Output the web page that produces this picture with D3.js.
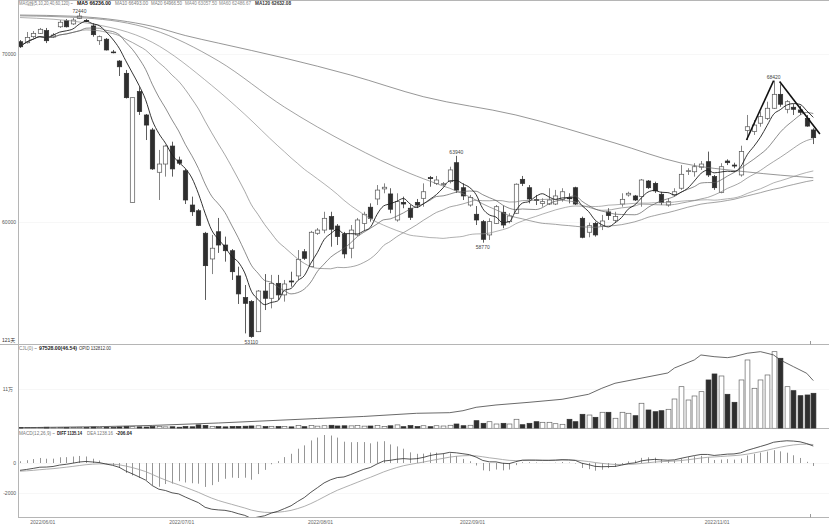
<!DOCTYPE html>
<html><head><meta charset="utf-8">
<script src="https://cdn.jsdelivr.net/npm/d3@7"></script>
<style>
body{margin:0;background:#fff}
svg{display:block}
text{font-family:"Liberation Sans",Arial,"Noto Sans CJK SC",sans-serif}
</style>
</head><body>
<svg id="c" width="829" height="528"></svg>
<script>
// ---------- data ----------
const opens=[70730,70670,71030,71230,71390,71010,71620,71980,71790,72120,
72000,71670,70790,70880,70120,69580,68850,61170,67760,66370,
65480,62960,63450,64520,63690,63050,61010,60670,59330,57800,
59420,58630,58290,56790,55500,55260,53470,55890,55460,56350,
55660,56490,56790,58230,57340,59330,59520,60320,59760,59270,
58440,59230,59920,60880,61370,61970,61670,60120,61170,60820,
61170,61410,62640,62300,62250,62400,63530,62040,61010,60460,
60020,59230,59920,60580,60020,60520,62540,62040,61330,61110,
61070,61070,61350,61430,62040,60220,59390,59920,59760,60600,
60100,61070,61610,61550,61510,62440,62300,61650,61010,61610,
62010,63020,62990,63260,63590,62700,61750,63630,63390,62800,
65440,65380,65880,66170,66770,67600,66710,66830,66670,66170,65480];
const highs=[70830,71310,71370,71550,71550,71250,72020,72080,72140,72440,
72080,71830,71100,70950,70240,69640,69050,67400,68020,66430,
65600,64290,64580,64780,63890,63160,61510,60770,59410,59230,
60240,59130,58390,57340,56250,55350,55950,56900,56850,56850,
56550,57040,58330,58390,59470,59640,60610,60610,59880,59410,
59820,60240,60610,61110,62200,62300,62010,61710,61510,61010,
61370,62300,62740,62740,62380,63290,63940,62300,61610,60950,
60120,60220,61010,60950,60520,62300,62740,62200,61610,61410,
62010,61910,62010,61710,62100,60320,59960,60020,60420,60820,
60610,61710,61800,61610,62560,62500,62400,61800,61410,62010,
63390,63200,63500,63630,64190,62800,63500,63730,63530,64540,
66370,66070,66570,67160,68420,68200,67260,67020,66910,66370,65580];
const lows=[70360,70620,70950,71190,70650,70950,71550,71580,71730,72080,
71900,71030,70540,70210,70040,68690,67350,61170,66370,64880,
63100,61310,62700,62700,63390,61070,60360,59760,55360,56900,
58160,57640,56550,55120,53370,53110,53450,54760,54860,55360,
55260,56150,56550,57740,57320,59230,59330,58530,58630,57840,
57840,59170,59520,60020,61010,61710,60520,60020,60820,60120,
60830,60910,62100,62200,62140,62300,61730,61310,60910,59820,
58770,58930,59880,59630,59920,60480,62140,61110,61010,60910,
61010,61010,61210,61110,61010,59030,59090,59130,59520,60120,
59960,60910,61510,61250,60910,61970,61730,61010,60910,61510,
61910,62800,62700,63100,62680,61910,61710,63390,63200,62700,
64880,65180,65670,66070,66730,66860,66470,66370,66370,65670,64640];
const closes=[70430,70990,71230,71470,70790,71130,71890,71620,72020,72260,
71960,71150,71030,70240,70080,69240,67400,67400,66570,65770,
63160,63450,64520,63160,63500,61310,60610,59800,57400,58440,
58630,58290,57040,55720,55160,53180,55890,55460,56350,55660,
56310,56430,57780,57840,59390,59520,60220,59570,59130,58100,
59520,60120,60460,60220,61900,62070,60760,61210,61070,60280,
61010,61800,62580,62500,62280,63100,61900,61550,61450,60120,
58970,60020,60910,59820,60360,62250,62300,61370,61290,61210,
61310,61550,61800,61390,61070,59090,59780,59230,60060,60380,
60320,61350,61710,61310,62500,62040,61850,61150,61210,61800,
62840,63050,63290,63450,62800,62040,63290,63530,63330,64190,
65670,65770,66270,66770,67600,67010,67160,66710,66530,65710,65020];
const volumes=[2500,2000,1800,2200,3000,1500,2600,2400,2000,2800,
2200,3500,2500,3000,2000,3800,5000,4500,4000,3500,
4800,5200,4000,4300,3000,5000,4200,9500,8000,5500,
4600,4000,5000,5400,5800,6500,7000,4800,5500,5000,
5200,4000,7500,4500,8000,6000,7200,8400,6500,7000,
6800,7600,6000,6400,8000,5000,7000,9500,4500,7400,
5000,7200,4500,7200,6400,8400,12000,7200,8400,21200,
13900,18400,12000,13900,12000,25100,10000,13900,18400,16700,
16700,12800,11100,25100,18400,39000,37000,30600,44600,44600,
27900,44600,41800,35100,69700,51000,46200,49000,52900,81600,
115900,78800,90000,102000,134600,151300,145700,94700,72400,134600,
190300,111400,134600,148500,213400,195000,115900,104800,90800,92800,97528];
// open interest, read at these bar positions
const oiIdx=[0,12,20,30,45,52,60,65,67,69,72,77,82,86,88,90,98,99,102,103,105,107,108,110,112,113,114,115,117,119,120];
const oiVal=[1700,4500,8000,14800,27300,33000,41800,43500,49000,58500,64900,72400,80800,94700,111400,125400,154100,168000,190300,204200,199500,196700,199500,209000,213400,209000,204200,190300,171600,153200,132812];
const ma40Idx=[0,10,20,29,34], ma40Val=[72170,71850,70700,68130,66410];
const ma60Idx=[0,10,20,30,40,50], ma60Val=[72270,72140,71460,69590,66840,64580];
const ma120Idx=[0,8,15,20,25,30,40,50,61,75,90,100,110,120];
const ma120Val=[72320,72250,72000,71650,71100,70650,69760,68750,67460,66370,64700,63510,62980,62632];
// MACD state just before the first bar (read from the left edge)
const macdSeed=[70750,71250,-560]; // EMA12, EMA26, DEA
const priceTicks=[70000,60000], priceTickLabels=["70000","60000"];
const volTicks=[110000], volTickLabels=["11万"];
const macdTicks=[0,-2000], macdTickLabels=["0","-2000"];
const dateIdx=[3,24,45,68,105];
const dateLabels=["2022/06/01","2022/07/01","2022/08/01","2022/09/01","2022/11/01"];
const markHighIdx=[9,66,114], markLowIdx=[35,70];
const trendA=[[109.9,64880],[114,68420]], trendB=[[114.9,68360],[121,65240]];

// ---------- drawing ----------
const svg=d3.select("#c");
const n=closes.length;
const L=18.5, R=829;
const x=d3.scaleLinear().domain([0,120]).range([20,813.3]);
const yP=d3.scaleLinear().domain([60000,70000]).range([222,54]);
const yV=d3.scaleLinear().domain([0,110000]).range([428.3,388.8]);
const yM=d3.scaleLinear().domain([-2000,0]).range([493,463]);

const defs=svg.append("defs");
defs.append("clipPath").attr("id","cpMain").append("rect").attr("x",19).attr("y",1).attr("width",810).attr("height",343.5);
defs.append("clipPath").attr("id","cpVol").append("rect").attr("x",19).attr("y",345.5).attr("width",810).attr("height",83);
defs.append("clipPath").attr("id","cpMacd").append("rect").attr("x",19).attr("y",429).attr("width",810).attr("height",88);

// grid
const grid=svg.append("g").attr("stroke","#e6e6e6").attr("stroke-width",0.6).attr("stroke-dasharray","1,1");
priceTicks.forEach(v=>grid.append("line").attr("x1",L+1).attr("x2",R).attr("y1",Math.round(yP(v))+0.5).attr("y2",Math.round(yP(v))+0.5));
volTicks.forEach(v=>grid.append("line").attr("x1",L+1).attr("x2",R).attr("y1",Math.round(yV(v))+0.5).attr("y2",Math.round(yV(v))+0.5));
macdTicks.forEach(v=>grid.append("line").attr("x1",L+1).attr("x2",R).attr("y1",Math.round(yM(v))+0.5).attr("y2",Math.round(yM(v))+0.5));

// frame
const fr=svg.append("g").attr("stroke","#b5b5b5").attr("stroke-width",1);
fr.append("line").attr("x1",L).attr("x2",R).attr("y1",0.5).attr("y2",0.5);
fr.append("line").attr("x1",L).attr("x2",L).attr("y1",0).attr("y2",518);
fr.append("line").attr("x1",0).attr("x2",R).attr("y1",344.5).attr("y2",344.5);
fr.append("line").attr("x1",L).attr("x2",R).attr("y1",428.5).attr("y2",428.5);
fr.append("line").attr("x1",L).attr("x2",R).attr("y1",517.5).attr("y2",517.5);
svg.append("line").attr("x1",810.5).attr("x2",810.5).attr("y1",341).attr("y2",344.5).attr("stroke","#999");
svg.append("line").attr("x1",810.5).attr("x2",810.5).attr("y1",514).attr("y2",517.5).attr("stroke","#999");

// candles
const up=i=>closes[i]>=opens[i];
const gMain=svg.append("g").attr("clip-path","url(#cpMain)");
const bw=4.4;
const cg=gMain.append("g");
d3.range(n).forEach(i=>{
  const cx=Math.round(x(i))+0.5;
  cg.append("line").attr("x1",cx).attr("x2",cx).attr("y1",yP(highs[i])).attr("y2",yP(lows[i]))
    .attr("stroke",up(i)?"#666":"#333").attr("stroke-width",0.8);
  const t=yP(Math.max(opens[i],closes[i])), b=yP(Math.min(opens[i],closes[i]));
  cg.append("rect").attr("x",cx-bw/2).attr("y",t).attr("width",bw).attr("height",Math.max(0.8,b-t))
    .attr("fill",up(i)?"#fff":"#2e2e2e").attr("stroke",up(i)?"#555":"#2e2e2e").attr("stroke-width",0.7);
});

// moving averages
function sma(p){return d3.range(n).map(i=>{const s=Math.max(0,i-p+1);return [i,d3.mean(closes.slice(s,i+1))];});}
function smaFull(p){return d3.range(p-1,n).map(i=>[i,d3.mean(closes.slice(i-p+1,i+1))]);}
const lineP=d3.line().x(d=>x(d[0])).y(d=>yP(d[1])).curve(d3.curveMonotoneX);
const ma120=ma120Idx.map((d,k)=>[d,ma120Val[k]]);
const ma60=ma60Idx.map((d,k)=>[d,ma60Val[k]]).concat(smaFull(60));
const ma40=ma40Idx.map((d,k)=>[d,ma40Val[k]]).concat(smaFull(40));
const mas=[[ma120,"#6a6a6a",0.7],[ma60,"#7a7a7a",0.7],[ma40,"#8f8f8f",0.7],[sma(20),"#808080",0.7],[sma(10),"#5a5a5a",0.7],[sma(5),"#1e1e1e",0.9]];
mas.forEach(m=>gMain.append("path").attr("d",lineP(m[0])).attr("fill","none").attr("stroke",m[1]).attr("stroke-width",m[2]));

// trend lines
[trendA,trendB].forEach(t=>gMain.append("path").attr("d",d3.line().x(d=>x(d[0])).y(d=>yP(d[1]))(t))
  .attr("stroke","#111").attr("stroke-width",1.6).attr("fill","none"));

// high/low marks
const fs=5;
markHighIdx.forEach(i=>svg.append("text").attr("x",x(i)).attr("y",Math.max(yP(highs[i])-1.6,12.6)).attr("text-anchor","middle")
  .attr("font-size",fs).attr("fill","#444").text(highs[i]));
markLowIdx.forEach(i=>svg.append("text").attr("x",x(i)).attr("y",yP(lows[i])+6.5).attr("text-anchor","middle")
  .attr("font-size",fs).attr("fill","#444").text(lows[i]));

// volume + open interest
const gVol=svg.append("g").attr("clip-path","url(#cpVol)");
d3.range(n).forEach(i=>{
  const cx=Math.round(x(i))+0.5, t=yV(volumes[i]);
  gVol.append("rect").attr("x",cx-2.4).attr("y",t).attr("width",4.8).attr("height",Math.max(0.6,yV(0)-t))
    .attr("fill",up(i)?"#fff":"#2e2e2e").attr("stroke",up(i)?"#666":"#2e2e2e").attr("stroke-width",0.7);
});
gVol.append("path").attr("d",d3.line().x((d,k)=>x(d)).y((d,k)=>yV(oiVal[k]))(oiIdx))
  .attr("fill","none").attr("stroke","#444").attr("stroke-width",0.8);

// MACD computed from closes
let e12=macdSeed[0], e26=macdSeed[1], dea=macdSeed[2];
const diffA=[], deaA=[], histA=[];
closes.forEach(c=>{e12+= (2/13)*(c-e12); e26+=(2/27)*(c-e26); const df=e12-e26; dea+=(2/10)*(df-dea);
  diffA.push(df); deaA.push(dea); histA.push(2*(df-dea));});
const gM=svg.append("g").attr("clip-path","url(#cpMacd)");
histA.forEach((h,i)=>{const cx=Math.round(x(i))+0.5;
  gM.append("line").attr("x1",cx).attr("x2",cx).attr("y1",yM(0)).attr("y2",yM(h)).attr("stroke","#8a8a8a").attr("stroke-width",0.9);});
const lineM=d3.line().x((d,i)=>x(i)).y(d=>yM(d));
gM.append("path").attr("d",lineM(deaA)).attr("fill","none").attr("stroke","#9a9a9a").attr("stroke-width",0.8);
gM.append("path").attr("d",lineM(diffA)).attr("fill","none").attr("stroke","#2a2a2a").attr("stroke-width",0.8);

// axis labels
const lab=(t,xx,yy,anchor,col,w)=>svg.append("text").attr("x",xx).attr("y",yy).attr("text-anchor",anchor||"start")
  .attr("font-size",fs).attr("fill",col||"#555").attr("font-weight",w||"normal").text(t);
priceTicks.forEach((v,k)=>lab(priceTickLabels[k],16,yP(v)+1.8,"end"));
volTicks.forEach((v,k)=>lab(volTickLabels[k],13,yV(v)+1.8,"end"));
macdTicks.forEach((v,k)=>lab(macdTickLabels[k],16,yM(v)+1.8,"end"));
lab("121天",2,342,"start","#333");
dateIdx.forEach((d,k)=>lab(dateLabels[k],x(d)+3,523.5,"middle","#666"));

// headers
function hdr(items,yy,f){items.forEach(it=>svg.append("text").attr("x",it[1]).attr("y",yy).attr("font-size",f||fs)
  .attr("textLength",it[2]-it[1]).attr("lengthAdjust","spacingAndGlyphs")
  .attr("fill",it[3]).attr("font-weight",it[4]||"normal").text(it[0]));}
hdr([["MA均线(5,10,20,40,60,120) ~",19,73,"#777"],["MA5 66236.00",77,111,"#111","bold"],
  ["MA10 66493.00",115,148,"#777"],["MA20 64966.50",151,182,"#777"],["MA40 63057.50",185,217,"#888"],
  ["MA60 62486.67",219,251,"#888"],["MA120 62632.08",255,291,"#333","bold"]],4.6,4.6);
hdr([["CJL(0) ~",19,37,"#777"],["97528.00(46.54)",39,77,"#222","bold"],["OPID 132812.00",79,111,"#333"]],349.5);
hdr([["MACD(12,26,9) ~",19,55,"#777"],["DIFF 1135.14",57,82,"#222","bold"],["DEA 1238.16",87,113,"#777"],["-206.04",116,132,"#222","bold"]],435);
</script>
</body></html>
